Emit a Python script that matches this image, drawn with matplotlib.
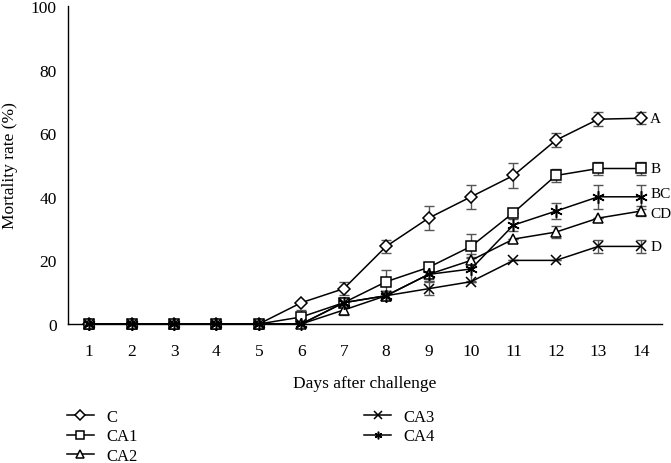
import numpy as np
import matplotlib.pyplot as plt

plt.rcParams['font.family'] = ['Liberation Serif', 'DejaVu Serif']

days = list(range(1, 15))

c_mean = [0, 0, 0, 0, 0, 6.7, 11.1, 24.4, 33.3, 40.0, 46.7, 57.8, 64.4, 64.7]
c_err = [0, 0, 0, 0, 0, 0, 2.0, 2.0, 3.8, 3.8, 3.8, 2.2, 2.2, 1.9]

ca1_mean = [0, 0, 0, 0, 0, 2.2, 6.7, 13.3, 17.8, 24.4, 35.0, 46.7, 48.9, 48.9]
ca1_err = [0, 0, 0, 0, 0, 2.2, 1.5, 3.8, 1.5, 3.8, 0, 2.0, 2.0, 2.0]

ca2_mean = [0, 0, 0, 0, 0, 0, 4.4, 8.9, 15.6, 20.0, 26.7, 28.9, 33.3, 35.5]
ca2_err = [0, 0, 0, 0, 0, 0, 1.5, 1.5, 2.0, 2.0, 0, 2.0, 0, 1.5]

ca3_mean = [0, 0, 0, 0, 0, 0, 6.7, 8.9, 11.1, 13.3, 20.0, 20.0, 24.4, 24.4]
ca3_err = [0, 0, 0, 0, 0, 0, 1.5, 1.5, 2.0, 0, 0, 0, 2.0, 2.0]

ca4_mean = [0, 0, 0, 0, 0, 0, 6.7, 8.9, 15.6, 17.3, 31.1, 35.5, 40.0, 40.0]
ca4_err = [0, 0, 0, 0, 0, 0, 1.5, 1.5, 2.0, 3.8, 2.0, 2.5, 3.8, 3.8]

groups = ['A', 'B', 'CD', 'D', 'BC']
group_nudge = [0, 0, -0.8, 0, 1.0]

fig = plt.figure(figsize=(6.71, 4.64), dpi=100)
ax = fig.add_axes([0.1013, 0.2996, 0.8852, 0.6853])

x = np.arange(len(days))

series = [
    ('C', c_mean, c_err, 'D', 6.5),
    ('CA1', ca1_mean, ca1_err, 's', 7),
    ('CA2', ca2_mean, ca2_err, '^', 7.5),
    ('CA3', ca3_mean, ca3_err, 'x', 7.5),
    ('CA4', ca4_mean, ca4_err, (6, 2, 0), 9),
]

handles = []
for name, m, e, mk, ms in series:
    ax.errorbar(x, m, yerr=e, fmt='none', ecolor='#555555', elinewidth=1,
                capsize=3.5, capthick=1, zorder=2)
    h, = ax.plot(x, m, color='black', lw=1.1, marker=mk, ms=ms,
                 mfc='white', mec='black', mew=1.1, label=name, zorder=3,
                 clip_on=False)
    handles.append(h)

for (name, m, e, mk, ms), g, dy in zip(series, groups, group_nudge):
    ax.text(x[-1] + 0.22, m[-1] + dy, g, fontsize=11, va='center', ha='left')

ax.set_xlim(-0.5, len(days) - 0.5)
ax.set_ylim(0, 100)
ax.set_xticks(x)
ax.set_xticklabels([str(d) for d in days])
ax.set_yticks([0, 20, 40, 60, 80, 100])
ax.tick_params(length=0, labelsize=12.5, pad=14)
ax.tick_params(axis='y', pad=8)
for s in ['top', 'right']:
    ax.spines[s].set_visible(False)
ax.spines['left'].set_linewidth(1)
ax.spines['bottom'].set_linewidth(1)

ax.set_xlabel('Days after challenge', fontsize=12.5, labelpad=11)
ax.set_ylabel('Mortality rate (%)', fontsize=12.5, labelpad=9)

leg = fig.legend(handles=handles, labels=['C', 'CA1', 'CA2', 'CA3', 'CA4'],
                 loc='upper left', bbox_to_anchor=(0.1, 0.117), ncol=2,
                 frameon=False, fontsize=12, columnspacing=13.6,
                 handlelength=1.6, handletextpad=0.75, labelspacing=0.22,
                 borderaxespad=0, borderpad=0)
for h in leg.legend_handles:
    h.set_markersize(5.5)

fig.savefig('out.png', dpi=100)
